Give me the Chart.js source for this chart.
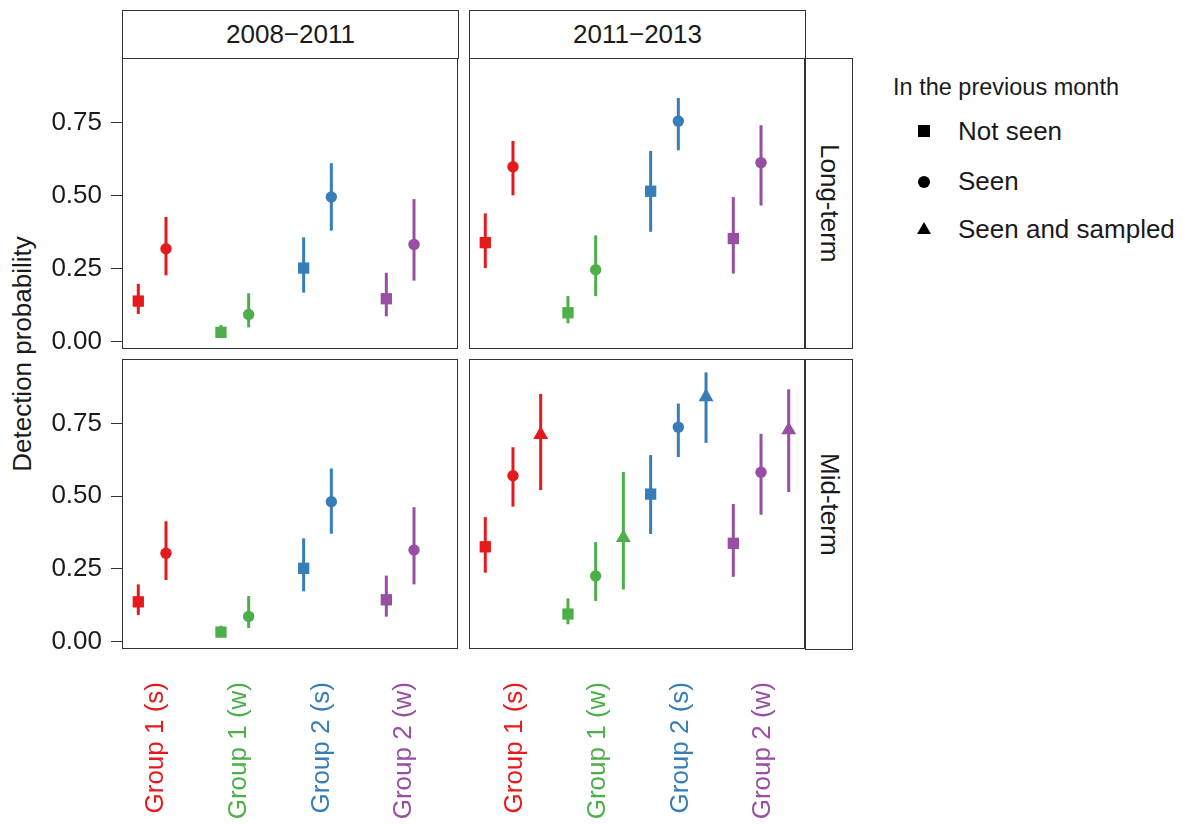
<!DOCTYPE html>
<html lang="en">
<head>
  <meta charset="UTF-8" />
  <title>Detection probability</title>
  <script src="https://cdn.jsdelivr.net/npm/chart.js"></script>
  <style>
    body {
      margin: 0;
      width: 1188px;
      height: 824px;
      position: relative;
      overflow: hidden;
      background: #fff;
      font-family: Arial, "Liberation Sans", sans-serif;
      color: #1a1a1a;
    }
    canvas, .strip, .txt, .key { position: absolute; }
    .strip {
      box-sizing: border-box;
      border: 1px solid #333;
      background: #fff;
      font-size: 26px;
      display: flex;
      align-items: center;
      justify-content: center;
    }
    .strip.side { writing-mode: vertical-rl; }
    .txt { white-space: nowrap; }
  </style>
</head>
<body>

  <!-- facet strips -->
  <div class="strip" style="left:122px; top:10px; width:337px; height:49px;">2008&#8722;2011</div>
  <div class="strip" style="left:469px; top:10px; width:337px; height:49px;">2011&#8722;2013</div>
  <div class="strip side" style="left:805px; top:58px; width:48px; height:291px;">Long-term</div>
  <div class="strip side" style="left:805px; top:359px; width:48px; height:291px;">Mid-term</div>

  <!-- y axis title -->
  <div class="txt" style="left:22px; top:354px; font-size:26px; transform:translate(-50%,-50%) rotate(-90deg);">Detection probability</div>

  <!-- legend -->
  <div class="txt" style="left:893px; top:74px; font-size:23.5px;">In the previous month</div>
  <div class="key" style="left:918px; top:125px; width:12px; height:12px; background:#000;"></div>
  <div class="txt" style="left:958px; top:116px; font-size:26px;">Not seen</div>
  <div class="key" style="left:918px; top:176px; width:12px; height:12px; border-radius:50%; background:#000;"></div>
  <div class="txt" style="left:958px; top:166px; font-size:26px;">Seen</div>
  <div class="key" style="left:917px; top:222px; width:0; height:0; border-left:7px solid transparent; border-right:7px solid transparent; border-bottom:12px solid #000;"></div>
  <div class="txt" style="left:958px; top:214px; font-size:26px;">Seen and sampled</div>

  <canvas id="ltA" width="462" height="299" style="left:0; top:54px;"></canvas>
  <canvas id="ltB" width="344" height="299" style="left:465px; top:54px;"></canvas>
  <canvas id="mtA" width="462" height="469" style="left:0; top:355px;"></canvas>
  <canvas id="mtB" width="344" height="469" style="left:465px; top:355px;"></canvas>

  <script>
    const groups = ['Group 1 (s)', 'Group 1 (w)', 'Group 2 (s)', 'Group 2 (w)'];
    const groupColors = ['#E41A1C', '#4DAF4A', '#377EB8', '#984EA3'];
    const statuses = ['Not seen', 'Seen', 'Seen and sampled'];
    const yTicks = [0, 0.25, 0.5, 0.75];

    // [estimate, lower, upper] for each group, in the order of `groups`
    // Long-term, 2008-2011
    const ltA_notSeen = [[0.139, 0.095, 0.198], [0.032, 0.021, 0.057], [0.252, 0.168, 0.357], [0.147, 0.087, 0.236]];
    const ltA_seen    = [[0.318, 0.227, 0.427], [0.093, 0.049, 0.166], [0.495, 0.380, 0.611], [0.333, 0.209, 0.488]];
    // Long-term, 2011-2013
    const ltB_notSeen = [[0.339, 0.252, 0.439], [0.099, 0.063, 0.156], [0.515, 0.376, 0.653], [0.353, 0.233, 0.495]];
    const ltB_seen    = [[0.599, 0.501, 0.687], [0.246, 0.156, 0.364], [0.755, 0.655, 0.834], [0.613, 0.466, 0.741]];
    // Mid-term, 2008-2011
    const mtA_notSeen = [[0.137, 0.092, 0.197], [0.033, 0.019, 0.055], [0.252, 0.173, 0.355], [0.144, 0.086, 0.227]];
    const mtA_seen    = [[0.304, 0.212, 0.414], [0.087, 0.047, 0.157], [0.481, 0.371, 0.595], [0.315, 0.197, 0.462]];
    // Mid-term, 2011-2013
    const mtB_notSeen = [[0.326, 0.237, 0.428], [0.095, 0.060, 0.149], [0.507, 0.370, 0.641], [0.338, 0.223, 0.473]];
    const mtB_seen    = [[0.570, 0.464, 0.668], [0.226, 0.140, 0.342], [0.737, 0.634, 0.818], [0.582, 0.436, 0.714]];
    const mtB_sampled = [[0.711, 0.521, 0.851], [0.357, 0.179, 0.583], [0.841, 0.683, 0.925], [0.727, 0.514, 0.867]];

    const shapes = ['rect', 'circle', 'triangle'];
    const radii = [8, 5.7, 8.6];
    const dodge = [-0.335, 0, 0.335];
    const font = { family: 'Arial, "Liberation Sans", sans-serif', size: 26 };

    // error bars under the points, and the panel frame on top
    const panelPlugin = {
      id: 'panel',
      beforeDatasetsDraw(chart) {
        const ctx = chart.ctx;
        const y = chart.scales.y;
        chart.data.datasets.forEach((ds, di) => {
          chart.getDatasetMeta(di).data.forEach((pt, i) => {
            ctx.save();
            ctx.strokeStyle = groupColors[i];
            ctx.lineWidth = 3;
            ctx.beginPath();
            ctx.moveTo(pt.x, y.getPixelForValue(ds.ci[i][1]));
            ctx.lineTo(pt.x, y.getPixelForValue(ds.ci[i][2]));
            ctx.stroke();
            ctx.restore();
          });
        });
      },
      afterDraw(chart) {
        const { ctx, chartArea: a } = chart;
        ctx.save();
        ctx.strokeStyle = '#333';
        ctx.lineWidth = 1;
        ctx.strokeRect(a.left + 0.5, a.top + 0.5, a.right - a.left - 1, a.bottom - a.top - 1);
        ctx.restore();
      }
    };

    function makePanel(id, series, showY, showX) {
      const datasets = series.map(([status, values]) => ({
        label: statuses[status],
        ci: values,
        data: values.map((v, i) => ({ x: i + 1 + dodge[status], y: v[0] })),
        pointStyle: shapes[status],
        pointRadius: radii[status],
        pointBorderWidth: 0,
        pointBackgroundColor: groupColors,
        pointBorderColor: groupColors,
        showLine: false
      }));

      new Chart(document.getElementById(id), {
        type: 'scatter',
        data: { datasets },
        options: {
          responsive: false,
          animation: false,
          events: [],
          layout: {
            autoPadding: false,
            padding: { left: showY ? 0 : 4, right: 4, top: 4, bottom: showX ? 0 : 4 }
          },
          plugins: { legend: { display: false }, tooltip: { enabled: false } },
          scales: {
            x: {
              type: 'linear',
              min: 0.468,
              max: 4.532,
              display: showX,
              afterBuildTicks: s => { s.ticks = groups.map((g, i) => ({ value: i + 1 })); },
              afterFit: s => {
                s.height = showX ? 175 : 0;
                s.paddingLeft = 0; s.paddingRight = 0; s.paddingTop = 0; s.paddingBottom = 0;
              },
              grid: { display: false },
              border: { display: false },
              ticks: {
                autoSkip: false,
                minRotation: 90,
                maxRotation: 90,
                padding: 25,
                labelOffset: showY ? -10 : 2,
                font,
                color: c => groupColors[c.index],
                callback: (v, i) => groups[i]
              }
            },
            y: {
              min: -0.025,
              max: 0.971,
              display: showY,
              afterBuildTicks: s => { s.ticks = yTicks.map(v => ({ value: v })); },
              afterFit: s => {
                s.width = showY ? 122 : 0;
                s.paddingLeft = 0; s.paddingRight = 0; s.paddingTop = 0; s.paddingBottom = 0;
              },
              grid: { drawOnChartArea: false, drawTicks: true, tickLength: 11, color: '#333' },
              border: { display: false },
              ticks: { font, color: '#1a1a1a', padding: 9, callback: v => v.toFixed(2) }
            }
          }
        },
        plugins: [panelPlugin]
      });
    }

    makePanel('ltA', [[0, ltA_notSeen], [1, ltA_seen]], true, false);
    makePanel('ltB', [[0, ltB_notSeen], [1, ltB_seen]], false, false);
    makePanel('mtA', [[0, mtA_notSeen], [1, mtA_seen]], true, true);
    makePanel('mtB', [[0, mtB_notSeen], [1, mtB_seen], [2, mtB_sampled]], false, true);
  </script>
</body>
</html>
